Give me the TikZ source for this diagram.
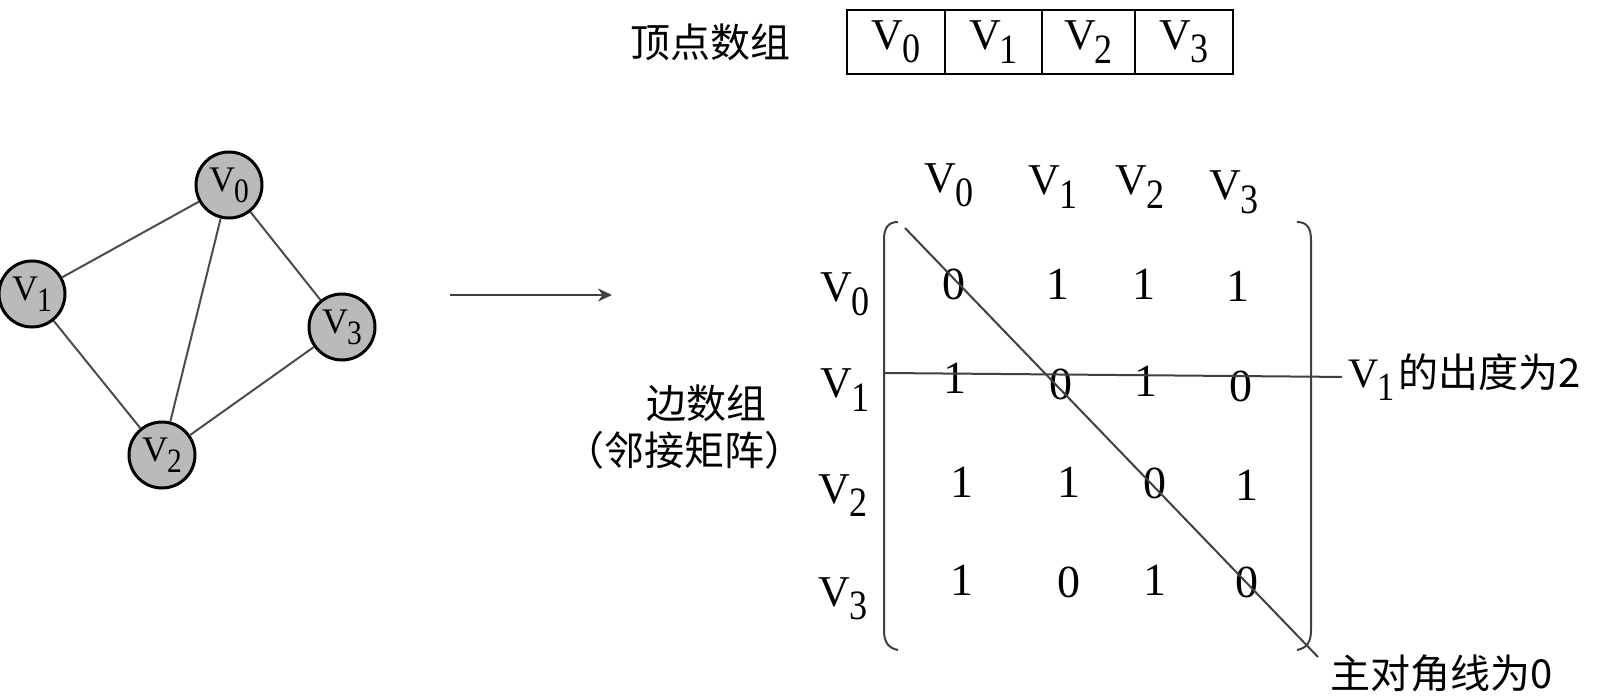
\documentclass[tikz,border=0pt]{standalone}
\usepackage{fontspec}
\usepackage{graphicx}
\setmainfont{Liberation Serif}
\newfontfamily\cjk{Noto Sans CJK SC}
\usetikzlibrary{arrows.meta}
\newcommand\vsub[1]{V\kern-0.03em\raisebox{-0.3em}{\scalebox{0.82}[0.95]{#1}}}
\begin{document}
\begin{tikzpicture}[x=0.5pt,y=-0.5pt,
  gnode/.style={circle,draw=black,line width=1.5pt,fill=black!27,minimum size=33pt,inner sep=0pt,font=\fontsize{18}{21}\selectfont},
  gedge/.style={draw=black!70,line width=1pt},
  cell/.style={draw=black,line width=0.8pt,minimum height=32pt,inner sep=0pt,font=\fontsize{22}{26}\selectfont},
  hdr/.style={font=\fontsize{22}{26}\selectfont,anchor=base,inner sep=0pt},
  ent/.style={font=\fontsize{23}{27}\selectfont,inner sep=0pt},
  cjktxt/.style={font=\cjk\fontsize{20}{24}\selectfont,inner sep=0pt},
  mline/.style={draw=black!75,line width=1pt}]
\useasboundingbox (0,0) rectangle (1608,700);

% vertex array
\node[cjktxt] (tv) at (710,42) {顶点数组};
\node[cell,minimum width=49pt] (c0) at (896,42) {\vsub{0}};
\node[cell,minimum width=48.5pt] (c1) at (993.5,42) {\vsub{1}};
\node[cell,minimum width=46.5pt] (c2) at (1088.5,42) {\vsub{2}};
\node[cell,minimum width=49pt] (c3) at (1184,42) {\vsub{3}};

% graph
\node[gnode] (v0) at (229,185) {\vsub{0}};
\node[gnode] (v1) at (32,294) {\vsub{1}};
\node[gnode] (v2) at (162,455) {\vsub{2}};
\node[gnode] (v3) at (342,327) {\vsub{3}};
\draw[gedge] (v0) -- (v1);
\draw[gedge] (v0) -- (v2);
\draw[gedge] (v0) -- (v3);
\draw[gedge] (v1) -- (v2);
\draw[gedge] (v2) -- (v3);

% arrow
\coordinate (a1) at (450,295);
\coordinate (a2) at (612,295);
\draw[-{Stealth[length=7pt,width=6.5pt]},line width=1.2pt,black!75] (a1) -- (a2);

% edge array label
\node[cjktxt] (eb) at (706,403) {边数组};
\node[cjktxt] (eb2) at (684,450) {（邻接矩阵）};

% headers
\node[hdr] (h0) at (949,193) {\vsub{0}};
\node[hdr] (h1) at (1053,195) {\vsub{1}};
\node[hdr] (h2) at (1140,195) {\vsub{2}};
\node[hdr] (h3) at (1234,200) {\vsub{3}};
\node[hdr] (r0) at (845,302) {\vsub{0}};
\node[hdr] (r1) at (845,398) {\vsub{1}};
\node[hdr] (r2) at (843,503) {\vsub{2}};
\node[hdr] (r3) at (843,606) {\vsub{3}};

% entries
\node[ent] (m00) at (954,284) {0};
\node[ent] (m01) at (1058,284) {1};
\node[ent] (m02) at (1144,284) {1};
\node[ent] (m03) at (1238,286) {1};
\node[ent] (m10) at (955,378) {1};
\node[ent] (m11) at (1061,384) {0};
\node[ent] (m12) at (1146,381) {1};
\node[ent] (m13) at (1241,386) {0};
\node[ent] (m20) at (962,482) {1};
\node[ent] (m21) at (1069,482) {1};
\node[ent] (m22) at (1155,483) {0};
\node[ent] (m23) at (1247,485) {1};
\node[ent] (m30) at (962,580) {1};
\node[ent] (m31) at (1069,582) {0};
\node[ent] (m32) at (1155,580) {1};
\node[ent] (m33) at (1247,582) {0};

% brackets
\draw[mline] (898,222) .. controls (888,222) and (884,228) .. (884,240) -- (884,630) .. controls (884,642) and (888,648) .. (898,650);
\draw[mline] (1297,222) .. controls (1307,222) and (1311,228) .. (1311,240) -- (1311,630) .. controls (1311,642) and (1307,648) .. (1297,650);

% annotations
\node[anchor=west,inner sep=0pt] (lbl1) at (1348,377) {\fontsize{21}{24}\selectfont\vsub{1}\kern2pt\cjk\fontsize{20}{24}\selectfont 的出度为2};
\coordinate (hs) at (885,373);
\draw[mline,shorten >=3pt] (hs) -- (lbl1.west);

\node[cjktxt,anchor=west] (lbl2) at (1330,673) {主对角线为0};
\coordinate (d1) at (905,228);
\coordinate (d2) at (1318,657);
\draw[mline] (d1) -- (d2);
\end{tikzpicture}
\end{document}
